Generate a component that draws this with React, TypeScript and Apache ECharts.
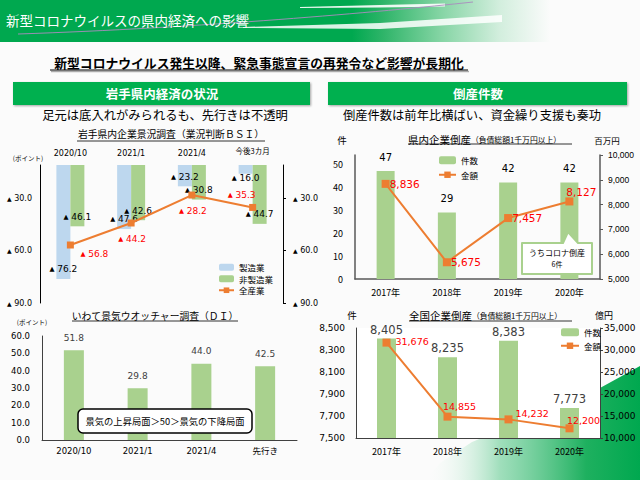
import React, { useEffect, useRef } from 'react';
import * as echarts from 'echarts';

// ---- data ----
const bsiCategories = ['2020/10', '2021/1', '2021/4', '今後3カ月'];
const bsiManufacturing = [-76.2, -47.6, -23.2, -16.0];
const bsiNonManufacturing = [-46.1, -42.6, -30.8, -44.7];
const bsiAllIndustries = [-56.8, -44.2, -28.2, -35.3];

const watcherCategories = ['2020/10', '2021/1', '2021/4', '先行き'];
const watcherValues = [51.8, 29.8, 44.0, 42.5];

const yearCategories = ['2017年', '2018年', '2019年', '2020年'];
const prefCounts = [47, 29, 42, 42];
const prefAmounts = [8836, 5675, 7457, 8127];
const nationalCounts = [8405, 8235, 8383, 7773];
const nationalAmounts = [31676, 14855, 14232, 12200];

const JP = '"Noto Sans CJK JP", sans-serif';
const NUM = '"DejaVu Sans", "Noto Sans CJK JP", sans-serif';
const GREEN_BAR = '#a9d18e';
const BLUE_BAR = '#bdd7ee';
const ORANGE = '#ed7d31';
const RED = '#ff0000';

const tri = (v: number) => `{t|▲} ${Math.abs(v).toFixed(1)}`;
const comma = (v: number) => Number(v).toLocaleString('en-US');

function buildOption() {
  const bsiLineOffsets = [[24, 9], [1, 16], [1, 16], [-11, -12]];
  const prefAmtLabels = [
    { position: 'right', offset: [-5, 0] },
    { position: 'right', offset: [-5, 0] },
    { position: 'right', offset: [-5, 0] },
    { position: 'inside', offset: [12, -9] },
  ];
  const natAmtLabels = [
    { position: 'right', offset: [0, -1] },
    { position: 'inside', offset: [12, -10] },
    { position: 'right', offset: [-2, -6] },
    { position: 'inside', offset: [14, -8] },
  ];

  const catAxisBase = {
    type: 'category',
    axisTick: { show: false },
    splitLine: { show: false },
  };

  return {
    backgroundColor: '#fbfbfb',
    animation: false,
    textStyle: { fontFamily: JP },
    grid: [
      { left: 40, top: 165, width: 243, height: 138, containLabel: false },
      { left: 42, top: 336, width: 255, height: 104 },
      { left: 355, top: 155, width: 245, height: 124 },
      { left: 356, top: 328, width: 244, height: 110, show: true, backgroundColor: '#ffffff', borderWidth: 0 },
    ],
    legend: [
      {
        data: ['製造業', '非製造業', '全産業'],
        orient: 'vertical', left: 218, top: 263, padding: 0,
        itemWidth: 15, itemHeight: 7, itemGap: 3, itemTextGap: 5,
        selectedMode: false,
        textStyle: { fontSize: 8.5, fontFamily: JP, color: '#000' },
      },
      {
        data: ['件数', '金額'],
        orient: 'vertical', left: 438, top: 156, padding: 0,
        itemWidth: 17, itemHeight: 8, itemGap: 6, itemTextGap: 2,
        selectedMode: false,
        textStyle: { fontSize: 8.5, fontFamily: JP, color: '#000' },
      },
      {
        data: ['件数', '金額'],
        orient: 'vertical', left: 560, top: 328, padding: 0,
        itemWidth: 18, itemHeight: 8, itemGap: 5, itemTextGap: 2,
        selectedMode: false,
        textStyle: { fontSize: 8.5, fontFamily: JP, color: '#000' },
      },
    ],
    xAxis: [
      {
        ...catAxisBase, gridIndex: 0, data: bsiCategories, position: 'top',
        axisLine: { show: false },
        axisLabel: {
          interval: 0, margin: 8, fontSize: 8, fontFamily: NUM, color: '#000',
          formatter: (v: string) => (v === '今後3カ月' ? `{s|${v}}` : v),
          rich: { s: { fontSize: 7.5, fontFamily: JP, color: '#000', padding: [0, 0, 3, 0] } },
        },
      },
      {
        ...catAxisBase, gridIndex: 1, data: watcherCategories,
        axisLine: { lineStyle: { color: '#404040', width: 1 } },
        axisLabel: { interval: 0, margin: 7, fontSize: 8.5, fontFamily: NUM, color: '#000' },
      },
      {
        ...catAxisBase, gridIndex: 2, data: yearCategories,
        axisLine: { lineStyle: { color: '#595959', width: 1.5 } },
        axisLabel: { interval: 0, margin: 9, fontSize: 9, fontFamily: JP, color: '#000' },
      },
      {
        ...catAxisBase, gridIndex: 3, data: yearCategories,
        axisLine: { lineStyle: { color: '#404040', width: 1 } },
        axisLabel: { interval: 0, margin: 9, fontSize: 9, fontFamily: JP, color: '#000' },
      },
    ],
    yAxis: [
      {
        gridIndex: 0, type: 'value', min: -90, max: -11, interval: 30,
        axisLine: { show: true, lineStyle: { color: '#000', width: 1 } },
        axisTick: { show: false }, splitLine: { show: false },
        axisLabel: {
          showMaxLabel: false, margin: 8, fontSize: 8, fontFamily: NUM, color: '#000',
          formatter: tri, rich: { t: { fontSize: 6, color: '#000' } },
        },
      },
      {
        gridIndex: 0, type: 'value', position: 'right', min: -90, max: -11, interval: 30,
        axisLine: { show: true, lineStyle: { color: '#000', width: 1 } },
        axisTick: { show: true, length: 3, lineStyle: { color: '#000' } }, splitLine: { show: false },
        axisLabel: {
          showMaxLabel: false, margin: 10, fontSize: 8, fontFamily: NUM, color: '#000',
          formatter: tri, rich: { t: { fontSize: 6, color: '#000' } },
        },
      },
      {
        gridIndex: 1, type: 'value', min: 0, max: 60, interval: 10,
        axisLine: { show: true, lineStyle: { color: '#404040', width: 1 } },
        axisTick: { show: false }, splitLine: { show: false },
        axisLabel: { margin: 12, fontSize: 8.5, fontFamily: NUM, color: '#000', formatter: (v: number) => v.toFixed(1) },
      },
      {
        gridIndex: 2, type: 'value', min: 0, max: 54, interval: 10,
        axisLine: { show: true, lineStyle: { color: '#595959', width: 1.5 } },
        axisTick: { show: false }, splitLine: { show: false },
        axisLabel: { showMaxLabel: false, margin: 12, fontSize: 9, fontFamily: JP, color: '#000' },
      },
      {
        gridIndex: 2, type: 'value', position: 'right', min: 5000, max: 10000, interval: 1000,
        axisLine: { show: true, lineStyle: { color: '#595959', width: 1.5 } },
        axisTick: { show: true, length: 3, lineStyle: { color: '#595959' } }, splitLine: { show: false },
        axisLabel: { margin: 8, fontSize: 8.5, fontFamily: '"Liberation Sans", sans-serif', color: '#000', formatter: comma },
      },
      {
        gridIndex: 3, type: 'value', min: 7500, max: 8500, interval: 200,
        axisLine: { show: true, lineStyle: { color: '#404040', width: 1 } },
        axisTick: { show: false }, splitLine: { show: false },
        axisLabel: { margin: 11, fontSize: 9, fontFamily: NUM, color: '#000', formatter: comma },
      },
      {
        gridIndex: 3, type: 'value', position: 'right', min: 10000, max: 35000, interval: 5000,
        axisLine: { show: true, lineStyle: { color: '#404040', width: 1 } },
        axisTick: { show: true, length: 3, lineStyle: { color: '#404040' } }, splitLine: { show: false },
        axisLabel: { margin: 4, fontSize: 9, fontFamily: NUM, color: '#000', formatter: comma },
      },
    ],
    series: [
      {
        name: '製造業', type: 'bar', xAxisIndex: 0, yAxisIndex: 0, clip: true,
        barWidth: 14, barGap: '0%', itemStyle: { color: BLUE_BAR },
        data: bsiManufacturing.map((v, i) => (i === 3 ? { value: v, label: { offset: [0, 14] } } : v)),
        label: {
          show: true, position: 'insideBottom', distance: 5, fontSize: 9, fontFamily: NUM, color: '#000',
          formatter: (p: any) => tri(p.value), rich: { t: { fontSize: 6.5, color: '#000' } },
        },
      },
      {
        name: '非製造業', type: 'bar', xAxisIndex: 0, yAxisIndex: 0, clip: true,
        barWidth: 14, barGap: '0%', itemStyle: { color: GREEN_BAR },
        data: bsiNonManufacturing,
        label: {
          show: true, position: 'insideBottom', distance: 5, fontSize: 9, fontFamily: NUM, color: '#000',
          formatter: (p: any) => tri(p.value), rich: { t: { fontSize: 6.5, color: '#000' } },
        },
      },
      {
        name: '全産業', type: 'line', xAxisIndex: 0, yAxisIndex: 0, z: 5,
        symbol: 'rect', symbolSize: 7, itemStyle: { color: ORANGE }, lineStyle: { color: ORANGE, width: 2 },
        data: bsiAllIndustries.map((v, i) => ({ value: v, label: { offset: bsiLineOffsets[i] } })),
        label: {
          show: true, position: 'inside', fontSize: 9, fontFamily: NUM, color: RED,
          formatter: (p: any) => tri(p.value), rich: { t: { fontSize: 6.5, color: RED } },
        },
      },
      {
        name: 'DI', type: 'bar', xAxisIndex: 1, yAxisIndex: 2, barWidth: 20,
        itemStyle: { color: GREEN_BAR }, data: watcherValues,
        label: {
          show: true, position: 'top', distance: 8, fontSize: 9, fontFamily: NUM, color: '#404040',
          formatter: (p: any) => Number(p.value).toFixed(1),
        },
      },
      {
        name: '件数', type: 'bar', xAxisIndex: 2, yAxisIndex: 3, barWidth: 18,
        itemStyle: { color: GREEN_BAR }, data: prefCounts,
        label: { show: true, position: 'top', distance: 9, fontSize: 10, fontFamily: NUM, color: '#000' },
      },
      {
        name: '金額', type: 'line', xAxisIndex: 2, yAxisIndex: 4, z: 5,
        symbol: 'rect', symbolSize: 8, itemStyle: { color: ORANGE }, lineStyle: { color: ORANGE, width: 2 },
        data: prefAmounts.map((v, i) => ({ value: v, label: prefAmtLabels[i] })),
        label: {
          show: true, fontSize: 10.5, fontFamily: NUM, color: RED,
          formatter: (p: any) => comma(p.value),
        },
      },
      {
        name: '件数', type: 'bar', xAxisIndex: 3, yAxisIndex: 5, barWidth: 19, clip: true,
        itemStyle: { color: GREEN_BAR }, data: nationalCounts,
        label: {
          show: true, position: 'top', distance: 3, fontSize: 11.5, fontFamily: NUM, color: '#404040',
          formatter: (p: any) => comma(p.value),
        },
      },
      {
        name: '金額', type: 'line', xAxisIndex: 3, yAxisIndex: 6, z: 5,
        symbol: 'rect', symbolSize: 8, itemStyle: { color: ORANGE }, lineStyle: { color: ORANGE, width: 2 },
        data: nationalAmounts.map((v, i) => ({ value: v, label: natAmtLabels[i] })),
        label: {
          show: true, fontSize: 9.5, fontFamily: NUM, color: RED,
          formatter: (p: any) => comma(p.value),
        },
      },
    ],
    graphic: [
      // header band
      {
        type: 'rect', z: -5, shape: { x: 0, y: 0, width: 640, height: 42 },
        style: {
          fill: new echarts.graphic.LinearGradient(0, 0, 1, 0, [
            { offset: 0, color: '#00a84f' },
            { offset: 0.55, color: '#00a84f' },
            { offset: 0.6, color: '#30b56a' },
            { offset: 0.69, color: '#86d5a5' },
            { offset: 0.78, color: '#d2eedd' },
            { offset: 0.86, color: '#fbfbfb' },
            { offset: 1, color: '#fbfbfb' },
          ]),
        },
      },
      {
        type: 'polygon', z: -4,
        shape: { points: [[300, 7], [380, 5], [445, 3.5], [445, 6.5], [380, 7.5], [300, 8]] },
        style: { fill: 'rgba(255,255,255,0.9)' },
      },
      {
        type: 'polygon', z: -4,
        shape: { points: [[243, 27], [380, 23], [502, 15], [502, 22], [380, 29], [243, 28]] },
        style: { fill: 'rgba(255,255,255,0.85)' },
      },
      {
        type: 'bezierCurve', z: -4,
        shape: { x1: 18, y1: 34, cpx1: 200, cpy1: 28, cpx2: 380, cpy2: 12, x2: 473, y2: 2 },
        style: { stroke: 'rgba(170,140,190,0.9)', lineWidth: 1, fill: 'none' },
      },
      {
        type: 'text', z: 10, x: 6, y: 20,
        style: { text: '新型コロナウイルスの県内経済への影響', fill: '#fff', fontSize: 13.5, fontFamily: JP, verticalAlign: 'middle' },
      },
      // main subtitle
      {
        type: 'text', z: 10, x: 259, y: 62,
        style: {
          text: '新型コロナウイルス発生以降、緊急事態宣言の再発令など影響が長期化',
          fill: '#000', fontSize: 12.8, fontWeight: 'bold', fontFamily: JP, align: 'center', verticalAlign: 'middle',
        },
      },
      { type: 'line', z: 9, shape: { x1: 51, y1: 71.5, x2: 469, y2: 71.5 }, style: { stroke: '#aaaaaa', lineWidth: 1.5 } },
      { type: 'line', z: 10, shape: { x1: 50, y1: 70, x2: 468, y2: 70 }, style: { stroke: '#000', lineWidth: 1.2 } },
      // section headers
      {
        type: 'rect', z: 10, shape: { x: 13, y: 82, width: 297, height: 23 },
        style: { fill: '#00b050', shadowBlur: 2, shadowColor: 'rgba(0,0,0,0.35)', shadowOffsetX: 1, shadowOffsetY: 1 },
      },
      {
        type: 'text', z: 11, x: 162, y: 93.5,
        style: { text: '岩手県内経済の状況', fill: '#fff', fontSize: 12.5, fontWeight: 'bold', fontFamily: JP, align: 'center', verticalAlign: 'middle' },
      },
      {
        type: 'rect', z: 10, shape: { x: 328, y: 82, width: 299, height: 23 },
        style: { fill: '#00b050', shadowBlur: 2, shadowColor: 'rgba(0,0,0,0.35)', shadowOffsetX: 1, shadowOffsetY: 1 },
      },
      {
        type: 'text', z: 11, x: 478, y: 93.5,
        style: { text: '倒産件数', fill: '#fff', fontSize: 12.5, fontWeight: 'bold', fontFamily: JP, align: 'center', verticalAlign: 'middle' },
      },
      {
        type: 'text', z: 10, x: 165, y: 115,
        style: { text: '足元は底入れがみられるも、先行きは不透明', fill: '#000', fontSize: 12.3, fontFamily: JP, align: 'center', verticalAlign: 'middle' },
      },
      {
        type: 'text', z: 10, x: 472, y: 115,
        style: { text: '倒産件数は前年比横ばい、資金繰り支援も奏功', fill: '#000', fontSize: 12.3, fontFamily: JP, align: 'center', verticalAlign: 'middle' },
      },
      // chart 1 title
      {
        type: 'text', z: 10, x: 171, y: 134,
        style: { text: '岩手県内企業景況調査（業況判断ＢＳＩ）', fill: '#000', fontSize: 9.8, fontFamily: JP, align: 'center', verticalAlign: 'middle' },
      },
      { type: 'line', z: 10, shape: { x1: 77, y1: 141, x2: 265, y2: 141 }, style: { stroke: '#000', lineWidth: 0.8 } },
      {
        type: 'text', z: 10, x: 28, y: 158,
        style: { text: '(ポイント)', fill: '#000', fontSize: 6.5, fontFamily: JP, align: 'center', verticalAlign: 'middle' },
      },
      // chart 2 title
      {
        type: 'text', z: 10, x: 155, y: 316,
        style: { text: 'いわて景気ウオッチャー調査（ＤＩ）', fill: '#000', fontSize: 9.8, fontFamily: JP, align: 'center', verticalAlign: 'middle' },
      },
      { type: 'line', z: 10, shape: { x1: 72, y1: 321, x2: 238, y2: 321 }, style: { stroke: '#000', lineWidth: 0.8 } },
      {
        type: 'text', z: 10, x: 32, y: 322,
        style: { text: '(ポイント)', fill: '#000', fontSize: 6.5, fontFamily: JP, align: 'center', verticalAlign: 'middle' },
      },
      // chart 2 annotation
      {
        type: 'rect', z: 100, shape: { x: 78, y: 409, width: 174, height: 24, r: 5 },
        style: { fill: '#ffffff', stroke: '#000', lineWidth: 1.5 },
      },
      {
        type: 'text', z: 101, x: 165, y: 421,
        style: { text: '景気の上昇局面＞50＞景気の下降局面', fill: '#000', fontSize: 9.3, fontFamily: JP, align: 'center', verticalAlign: 'middle' },
      },
      // chart 3 title
      {
        type: 'text', z: 10, x: 408, y: 139,
        style: {
          text: '{a|県内企業倒産}{b|（負債総額1千万円以上）}', verticalAlign: 'middle',
          rich: {
            a: { fontSize: 10.5, fontFamily: JP, fill: '#000', color: '#000' },
            b: { fontSize: 7.8, fontFamily: JP, fill: '#000', color: '#000' },
          },
        },
      },
      { type: 'line', z: 10, shape: { x1: 408, y1: 144, x2: 572, y2: 144 }, style: { stroke: '#000', lineWidth: 0.8 } },
      {
        type: 'text', z: 10, x: 342, y: 140,
        style: { text: '件', fill: '#000', fontSize: 9.5, fontFamily: JP, align: 'center', verticalAlign: 'middle' },
      },
      {
        type: 'text', z: 10, x: 607, y: 140,
        style: { text: '百万円', fill: '#000', fontSize: 8.5, fontFamily: JP, align: 'center', verticalAlign: 'middle' },
      },
      // callout
      {
        type: 'polygon', z: 100,
        shape: { points: [[522, 243], [563, 243], [568, 232], [578, 243], [592, 243], [592, 274], [522, 274]] },
        style: { fill: '#ffffff', stroke: '#a9d18e', lineWidth: 2, lineJoin: 'round' },
      },
      {
        type: 'text', z: 101, x: 557, y: 252,
        style: { text: 'うちコロナ倒産', fill: '#000', fontSize: 8, fontFamily: JP, align: 'center', verticalAlign: 'middle' },
      },
      {
        type: 'text', z: 101, x: 557, y: 264,
        style: { text: '6件', fill: '#000', fontSize: 7, fontFamily: JP, align: 'center', verticalAlign: 'middle' },
      },
      // chart 4 title
      {
        type: 'text', z: 10, x: 409, y: 315,
        style: {
          text: '{a|全国企業倒産}{b|（負債総額1千万円以上）}', verticalAlign: 'middle',
          rich: {
            a: { fontSize: 10.5, fontFamily: JP, fill: '#000', color: '#000' },
            b: { fontSize: 7.8, fontFamily: JP, fill: '#000', color: '#000' },
          },
        },
      },
      { type: 'line', z: 10, shape: { x1: 409, y1: 321, x2: 572, y2: 321 }, style: { stroke: '#000', lineWidth: 0.8 } },
      {
        type: 'text', z: 10, x: 352, y: 315,
        style: { text: '件', fill: '#000', fontSize: 9.5, fontFamily: JP, align: 'center', verticalAlign: 'middle' },
      },
      {
        type: 'text', z: 10, x: 604, y: 315,
        style: { text: '億円', fill: '#000', fontSize: 9, fontFamily: JP, align: 'center', verticalAlign: 'middle' },
      },
      // decorative wedge bottom right
      {
        type: 'polygon', z: -5,
        shape: { points: [[640, 366], [600, 388], [540, 414], [472, 442], [440, 463], [425, 480], [640, 480]] },
        style: {
          fill: new echarts.graphic.LinearGradient(0, 0, 1, 0, [
            { offset: 0, color: 'rgba(255,255,255,0)' },
            { offset: 0.35, color: 'rgba(120,210,160,0.7)' },
            { offset: 0.75, color: '#1eb05f' },
            { offset: 1, color: '#00a84f' },
          ]),
        },
      },
    ],
  };
}

export default function App() {
  const ref = useRef<HTMLDivElement>(null);
  useEffect(() => {
    if (!ref.current) return;
    const chart = echarts.init(ref.current, null, { renderer: 'svg' });
    chart.setOption(buildOption() as any);
    return () => chart.dispose();
  }, []);
  return (
    <div
      ref={ref}
      style={{ position: 'fixed', left: 0, top: 0, width: 640, height: 480 }}
    />
  );
}
